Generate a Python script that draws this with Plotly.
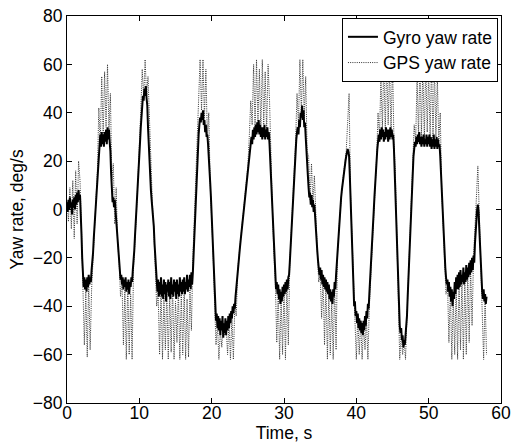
import numpy as np
import plotly.graph_objects as go

# ---------------- data ----------------
# Gyro yaw rate, deg/s, sampled every 0.1 s from 0 to 58 s
gyro_rate = [
    3, -1, 4, 0, 5, 1, 3, -2, 4, 1,
    5, 0, 6, 2, 7, 3, 8, 4, 6, 0,
    -10, -20, -27, -32, -28, -33, -29, -34, -28, -32,
    -27, -31, -28, -30, -25, -22, -18, -12, -7, -3,
    1, 6, 13, 19, 24, 27, 31, 26, 32, 27,
    31, 26, 32, 28, 33, 27, 34, 29, 33, 28,
    24, 15, 7, 3, 5, 1, 4, 0, -5, -10,
    -15, -19, -23, -26, -29, -27, -31, -28, -33, -29,
    -32, -28, -34, -30, -33, -29, -35, -30, -32, -28,
    -30, -25, -22, -17, -11, -6, -1, 4, 10, 16,
    22, 28, 34, 40, 44, 47, 45, 50, 47, 51,
    46, 43, 34, 26, 19, 12, 8, 4, 1, -2,
    -7, -14, -20, -26, -30, -34, -29, -36, -30, -35,
    -28, -36, -31, -37, -29, -35, -30, -38, -31, -34,
    -29, -36, -30, -37, -28, -35, -31, -36, -29, -34,
    -30, -37, -29, -35, -31, -36, -28, -34, -30, -35,
    -29, -34, -28, -35, -30, -33, -27, -34, -29, -32,
    -27, -33, -26, -31, -26, -18, -10, -2, 6, 13,
    20, 26, 31, 35, 38, 36, 40, 37, 41, 35,
    37, 32, 35, 30, 31, 27, 23, 17, 11, 5,
    -2, -9, -17, -26, -35, -41, -46, -43, -49, -44,
    -50, -45, -52, -46, -50, -44, -53, -47, -51, -45,
    -52, -46, -50, -44, -49, -43, -47, -42, -45, -40,
    -43, -39, -41, -36, -32, -29, -25, -22, -19, -16,
    -13, -10, -7, -4, -1, 2, 5, 8, 11, 14,
    16, 19, 22, 25, 28, 30, 27, 33, 29, 34,
    30, 35, 31, 36, 32, 37, 31, 35, 30, 34,
    29, 34, 30, 35, 29, 33, 30, 34, 29, 32,
    27, 20, 12, 4, -4, -12, -19, -25, -29, -33,
    -30, -35, -31, -37, -33, -39, -34, -38, -32, -36,
    -31, -35, -30, -34, -29, -33, -28, -27, -22, -16,
    -10, -4, 3, 9, 15, 20, 25, 29, 32, 34,
    31, 37, 34, 40, 38, 43, 37, 41, 34, 36,
    30, 26, 20, 14, 9, 5, 7, 2, 6, 1,
    4, -1, 2, -4, -8, -13, -17, -21, -24, -27,
    -24, -29, -25, -31, -27, -32, -28, -33, -29, -34,
    -30, -35, -31, -37, -33, -38, -34, -39, -33, -36,
    -30, -33, -27, -22, -17, -12, -7, -3, 1, 5,
    8, 11, 13, 16, 18, 20, 22, 23, 25, 24,
    22, 14, 4, -6, -17, -27, -35, -40, -38, -44,
    -42, -47, -43, -49, -45, -50, -46, -51, -47, -52,
    -46, -50, -44, -48, -42, -45, -39, -41, -35, -30,
    -25, -19, -13, -7, -1, 5, 11, 16, 21, 25,
    28, 31, 28, 33, 29, 34, 30, 33, 28, 32,
    29, 34, 30, 33, 28, 33, 29, 34, 30, 33,
    29, 31, 25, 15, 4, -7, -18, -28, -37, -44,
    -48, -51, -49, -54, -52, -57, -54, -56, -52, -50,
    -44, -36, -28, -20, -12, -4, 4, 11, 17, 22,
    25, 28, 26, 30, 27, 31, 28, 32, 27, 30,
    26, 30, 27, 31, 26, 29, 27, 31, 26, 30,
    27, 31, 26, 30, 25, 29, 26, 31, 25, 29,
    26, 30, 25, 29, 26, 27, 22, 15, 7, -1,
    -8, -14, -19, -24, -28, -31, -29, -34, -30, -36,
    -32, -38, -33, -40, -34, -37, -30, -35, -28, -33,
    -27, -33, -26, -32, -25, -31, -27, -30, -24, -31,
    -26, -30, -23, -29, -24, -28, -22, -27, -21, -26,
    -20, -25, -19, -22, -14, -8, -3, 0, 2, -1,
    -8, -16, -23, -29, -34, -37, -33, -38, -35, -39,
    -36,
]

# GPS yaw rate, deg/s, sampled every 0.2 s from 0 to 58 s
gps_rate = [
    3, -5, 9, -8, 12, -12, 16, -6, 20, 12,
    -8, -32, -56, -34, -61, -29, -58, -33, -22, -6,
    2, 16, 42, 27, 55, 30, 57, 34, 60, 33,
    48, 12, 19, -6, 9, -14, -21, -36, -29, -56,
    -33, -62, -30, -60, -35, -62, -24, -14, -2, 12,
    24, 41, 58, 46, 62, 47, 55, 35, 14, 3,
    -8, -22, -40, -34, -60, -32, -62, -36, -58, -33,
    -62, -34, -59, -31, -62, -38, -55, -33, -62, -35,
    -60, -32, -62, -37, -61, -33, -50, -20, -4, 8,
    22, 45, 62, 41, 62, 38, 58, 30, 40, 10,
    -2, -18, -38, -56, -47, -62, -50, -57, -47, -52,
    -48, -60, -46, -62, -44, -62, -40, -44, -25, -18,
    -14, -6, -1, 6, 12, 18, 30, 45, 35, 60,
    33, 62, 36, 58, 32, 62, 35, 57, 32, 60,
    45, 16, 0, -18, -30, -55, -34, -62, -36, -60,
    -32, -62, -30, -56, -22, -10, 3, 16, 28, 48,
    35, 62, 40, 62, 38, 55, 24, 22, 4, 19,
    2, 14, -6, -17, -30, -26, -45, -28, -56, -30,
    -62, -33, -60, -37, -62, -31, -58, -18, -8, 2,
    8, 14, 18, 24, 36, 48, 6, -10, -30, -40,
    -62, -44, -60, -46, -62, -47, -58, -45, -62, -40,
    -28, -13, -1, 11, 21, 40, 30, 55, 33, 62,
    32, 62, 35, 60, 30, 62, 28, 15, -15, -40,
    -62, -52, -60, -54, -62, -44, -28, -12, 4, 17,
    35, 28, 55, 30, 62, 30, 60, 28, 62, 32,
    58, 29, 62, 27, 60, 30, 55, 28, 40, 8,
    -8, -20, -35, -30, -55, -33, -62, -36, -60, -31,
    -62, -30, -58, -28, -62, -27, -60, -25, -55, -24,
    -48, -20, -10, 5, 18, -2, -20, -42, -62, -36,
    -60,
]

gyro_dt = 0.1
gps_dt = 0.2
gyro_time = np.round(np.arange(len(gyro_rate)) * gyro_dt, 2)
gps_time = np.round(np.arange(len(gps_rate)) * gps_dt, 2)

x_ticks = [0, 10, 20, 30, 40, 50, 60]
y_ticks = [-80, -60, -40, -20, 0, 20, 40, 60, 80]

FONT = "Liberation Sans, Arial, Helvetica, sans-serif"
FS = 17.5

fig = go.Figure()
fig.add_trace(go.Scatter(
    x=gps_time, y=gps_rate, mode="lines", name="GPS yaw rate",
    line=dict(color="#333333", width=1, dash="1px,1.2px"), legendrank=2,
))
fig.add_trace(go.Scatter(
    x=gyro_time, y=gyro_rate, mode="lines", name="Gyro yaw rate",
    line=dict(color="black", width=2), legendrank=1,
))

axis_common = dict(
    showgrid=False, zeroline=False, showline=True, linecolor="black",
    linewidth=1, mirror="allticks", ticks="inside", ticklen=5,
    tickcolor="black", tickfont=dict(family=FONT, size=FS, color="black"),
    automargin=False,
)
fig.update_xaxes(range=[0, 60], tickvals=x_ticks, ticklabelstandoff=-6,
                 title=dict(text="Time, s", font=dict(family=FONT, size=FS, color="black"), standoff=0),
                 **axis_common)
fig.update_yaxes(range=[-80, 80], tickvals=y_ticks,
                 title=dict(text="Yaw rate, deg/s", font=dict(family=FONT, size=FS, color="black"), standoff=4),
                 **axis_common)

fig.update_layout(
    width=517, height=448,
    margin=dict(l=67, r=16, t=16, b=45),
    paper_bgcolor="white", plot_bgcolor="white",
    font=dict(family=FONT, size=FS, color="black"),
    legend=dict(x=0.993, y=0.995, xanchor="right", yanchor="top",
                bgcolor="white", bordercolor="black", borderwidth=1,
                font=dict(family=FONT, size=FS, color="black"),
                tracegroupgap=0, itemwidth=30),
    showlegend=True,
)

# remove the default page margin so the figure sits at the window's corner
fig.write_html("out.html", config={"displayModeBar": False},
               post_script="document.body.style.margin='0px';")
